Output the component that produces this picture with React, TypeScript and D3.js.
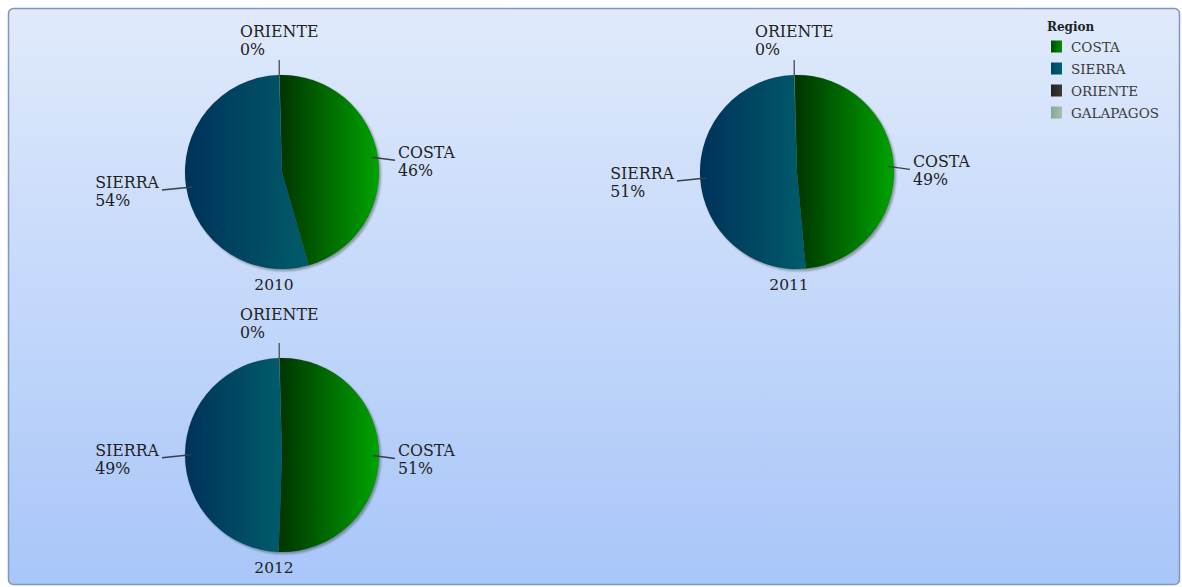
import React, { useEffect, useRef } from "react";
import * as d3 from "d3";

const years = ["2010", "2011", "2012"];
const regions = ["COSTA", "SIERRA", "ORIENTE", "GALAPAGOS"];
const costa = [46, 49, 51];
const sierra = [54, 51, 49];
const oriente = [0.1, 0.1, 0.1];
const galapagos = [0, 0, 0];
const legendTitle = "Region";

const W = 1182;
const H = 587;

const gradStops: Record<string, [string, string]> = {
  COSTA: ["#003400", "#00a400"],
  SIERRA: ["#00325a", "#005c6a"],
  ORIENTE: ["#222222", "#444444"],
  GALAPAGOS: ["#7fa090", "#a0b8a8"],
};
const legendColors: Record<string, [string, string]> = {
  COSTA: ["#004a00", "#009000"],
  SIERRA: ["#004466", "#006070"],
  ORIENTE: ["#222222", "#3a3a3a"],
  GALAPAGOS: ["#86a898", "#a6bcae"],
};

export default function App() {
  const ref = useRef<SVGSVGElement>(null);

  useEffect(() => {
    const svg = d3.select(ref.current);
    svg.selectAll("*").remove();
    const defs = svg.append("defs");

    const bg = defs
      .append("linearGradient")
      .attr("id", "bg")
      .attr("x1", 0)
      .attr("y1", 0)
      .attr("x2", 0)
      .attr("y2", 1);
    bg.append("stop").attr("offset", "0%").attr("stop-color", "#e0eafb");
    bg.append("stop").attr("offset", "100%").attr("stop-color", "#a8c6f9");

    const blur = defs.append("filter").attr("id", "sh").attr("x", "-10%").attr("y", "-10%").attr("width", "120%").attr("height", "120%");
    blur.append("feGaussianBlur").attr("stdDeviation", 1.2);

    regions.forEach((r) => {
      const g = defs
        .append("linearGradient")
        .attr("id", "g-" + r)
        .attr("x1", 0)
        .attr("y1", 0)
        .attr("x2", 1)
        .attr("y2", 0);
      g.append("stop").attr("offset", "0%").attr("stop-color", gradStops[r][0]);
      g.append("stop").attr("offset", "100%").attr("stop-color", gradStops[r][1]);
      const l = defs
        .append("linearGradient")
        .attr("id", "l-" + r)
        .attr("x1", 0)
        .attr("y1", 0)
        .attr("x2", 1)
        .attr("y2", 0);
      l.append("stop").attr("offset", "0%").attr("stop-color", legendColors[r][0]);
      l.append("stop").attr("offset", "100%").attr("stop-color", legendColors[r][1]);
    });

    // panel
    svg
      .append("rect")
      .attr("x", 8.5)
      .attr("y", 8.5)
      .attr("width", 1171)
      .attr("height", 576)
      .attr("rx", 5)
      .attr("fill", "url(#bg)")
      .attr("stroke", "#8096bb")
      .attr("stroke-width", 1.5);

    const colX = d3.scalePoint<number>().domain([0, 1]).range([282, 797]);
    const rowY = d3.scalePoint<number>().domain([0, 1]).range([172, 455]);
    const R = 97;
    const startOffset = -0.025;

    const pie = d3
      .pie<{ name: string; value: number }>()
      .value((d) => d.value)
      .sort(null)
      .startAngle(startOffset)
      .endAngle(startOffset + 2 * Math.PI);
    const arc = d3
      .arc<d3.PieArcDatum<{ name: string; value: number }>>()
      .innerRadius(0)
      .outerRadius(R);

    const font = "'DejaVu Serif', serif";
    const LFS = 15.8;

    years.forEach((yr, i) => {
      const cx = colX(i % 2)!;
      const cy = rowY(Math.floor(i / 2))!;
      const data = [
        { name: "COSTA", value: costa[i] },
        { name: "SIERRA", value: sierra[i] },
        { name: "ORIENTE", value: oriente[i] },
        { name: "GALAPAGOS", value: galapagos[i] },
      ];
      const total = d3.sum(data, (d) => d.value);
      const arcs = pie(data);

      svg
        .append("circle")
        .attr("cx", cx + 2)
        .attr("cy", cy + 2)
        .attr("r", R)
        .attr("fill", "rgba(0,20,0,0.35)")
        .attr("filter", "url(#sh)");

      const g = svg.append("g").attr("transform", `translate(${cx},${cy})`);

      g.selectAll("path.slice")
        .data(arcs.filter((a) => a.endAngle - a.startAngle > 0.01))
        .join("path")
        .attr("class", "slice")
        .attr("d", arc)
        .attr("fill", (d) => `url(#g-${d.data.name})`)
        .attr("stroke", "rgba(0,30,0,0.2)")
        .attr("stroke-width", 0.6);

      // labels
      arcs
        .filter((a) => a.data.value > 0)
        .forEach((a) => {
          const mid = (a.startAngle + a.endAngle) / 2;
          const s = Math.sin(mid);
          const c = -Math.cos(mid);
          const pct = Math.round((a.data.value / total) * 100) + "%";
          if (Math.abs(s) < 0.3) {
            // top label
            const x = cx + R * s;
            const y0 = cy + R * c;
            const y1 = y0 - 15;
            svg
              .append("line")
              .attr("x1", x)
              .attr("y1", y0 + 2)
              .attr("x2", x)
              .attr("y2", y1)
              .attr("stroke", "#555d66")
              .attr("stroke-width", 1.5);
            const t1 = svg
              .append("text")
              .attr("y", y1 - 23)
              .attr("font-family", font)
              .attr("font-size", LFS)
              .attr("fill", "#222")
              .text(a.data.name);
            const w = (t1.node() as SVGTextElement).getComputedTextLength();
            const left = x - w / 2;
            t1.attr("x", left);
            svg
              .append("text")
              .attr("x", left)
              .attr("y", y1 - 5)
              .attr("font-family", font)
              .attr("font-size", LFS)
              .attr("fill", "#222")
              .text(pct);
          } else {
            const sign = s > 0 ? 1 : -1;
            const px = cx + (R - 6) * s;
            const py = cy + R * c;
            const ex = cx + sign * (sign > 0 ? R + 16 : R + 23);
            const ey = py + 3;
            svg
              .append("line")
              .attr("x1", px)
              .attr("y1", py)
              .attr("x2", ex)
              .attr("y2", ey)
              .attr("stroke", "#3a3f44")
              .attr("stroke-width", 1.5);
            const tx = ex + sign * 3;
            const anchor = sign > 0 ? "start" : "end";
            const t1 = svg
              .append("text")
              .attr("y", ey - 2)
              .attr("font-family", font)
              .attr("font-size", LFS)
              .attr("fill", "#222")
              .text(a.data.name);
            const w = (t1.node() as SVGTextElement).getComputedTextLength();
            const left = anchor === "start" ? tx : tx - w;
            t1.attr("x", left);
            svg
              .append("text")
              .attr("x", left)
              .attr("y", ey + 16)
              .attr("font-family", font)
              .attr("font-size", LFS)
              .attr("fill", "#222")
              .text(pct);
          }
        });

      svg
        .append("text")
        .attr("x", cx - 8)
        .attr("y", cy + R + 21)
        .attr("text-anchor", "middle")
        .attr("font-family", font)
        .attr("font-size", 15.5)
        .attr("fill", "#222")
        .text(yr);
    });

    // legend
    const lg = svg.append("g");
    lg.append("text")
      .attr("x", 1047)
      .attr("y", 31)
      .attr("font-family", font)
      .attr("font-size", 12)
      .attr("font-weight", "bold")
      .attr("fill", "#222")
      .text(legendTitle);
    const ly = d3
      .scalePoint<string>()
      .domain(regions)
      .range([46.5, 112.5]);
    regions.forEach((r) => {
      const y = ly(r)!;
      lg.append("rect")
        .attr("x", 1051)
        .attr("y", y - 6)
        .attr("width", 11)
        .attr("height", 12)
        .attr("fill", `url(#l-${r})`);
      lg.append("text")
        .attr("x", 1071)
        .attr("y", y + 5)
        .attr("font-family", font)
        .attr("font-size", 13.5)
        .attr("fill", "#3a3a3a")
        .text(r);
    });
  }, []);

  return (
    <svg
      ref={ref}
      width={W}
      height={H}
      style={{ position: "absolute", left: 0, top: 0, display: "block" }}
    />
  );
}
